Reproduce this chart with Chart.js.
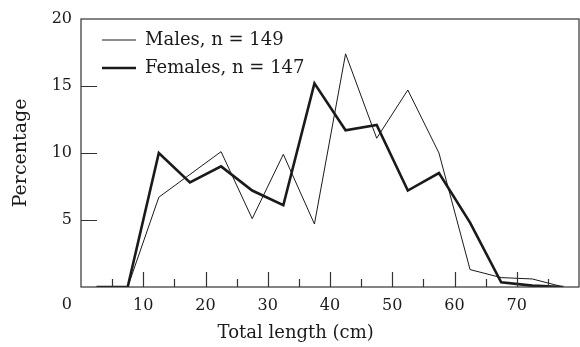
<!DOCTYPE html>
<html lang="en">
  <head>
    <meta charset="UTF-8" />
    <meta name="viewport" content="width=device-width, initial-scale=1.0" />
    <title>Total length distribution</title>
    <script src="https://cdn.jsdelivr.net/npm/chart.js"></script>
    <style>
      html, body { margin: 0; padding: 0; background: #fff; }
      #wrap { width: 580px; height: 347px; }
    </style>
  </head>
  <body>
    <div id="wrap"><canvas id="lengthChart"></canvas></div>
    <script>
      // class midpoints (cm) and percentage per class
      const lengthMids = [2.5, 7.5, 12.5, 17.5, 22.5, 27.5, 32.5, 37.5, 42.5, 47.5, 52.5, 57.5, 62.5, 67.5, 72.5, 77.5];
      const malePct = [0, 0, 6.7, 8.4, 10.1, 5.1, 9.9, 4.7, 17.4, 11.1, 14.7, 10.0, 1.3, 0.7, 0.6, 0];
      const femalePct = [0, 0, 10.0, 7.8, 9.0, 7.2, 6.1, 15.2, 11.7, 12.1, 7.2, 8.5, 4.8, 0.35, 0.1, 0];
      const maleLabel = "Males, n = 149";
      const femaleLabel = "Females, n = 147";
      const xTitle = "Total length (cm)";
      const yTitle = "Percentage";

      const serif = '"DejaVu Serif", "Liberation Serif", serif';
      const ink = "#1a1a1a";

      function toPoints(values) {
        return values.map((v, i) => ({ x: lengthMids[i], y: v }));
      }

      // frame, inward tick marks, corner "0", and legend nudged into the plot corner
      const frameTicks = {
        id: "frameTicks",
        afterLayout(chart) {
          const lg = chart.legend;
          lg.left = chart.chartArea.left + 11;
          lg.top = chart.chartArea.top + 2;
        },
        afterDraw(chart) {
          const { ctx, chartArea: a, scales } = chart;
          const x = scales.x;
          const y = scales.y;
          ctx.save();
          ctx.strokeStyle = "#333";
          ctx.lineWidth = 1.2;
          ctx.strokeRect(a.left, a.top, a.right - a.left, a.bottom - a.top);
          ctx.beginPath();
          for (let v = 5; v < 80; v += 5) {
            const px = Math.round(x.getPixelForValue(v)) + 0.5;
            ctx.moveTo(px, a.bottom);
            ctx.lineTo(px, a.bottom - (v % 10 === 0 ? 15 : 8));
          }
          [5, 10, 15].forEach((v) => {
            const py = Math.round(y.getPixelForValue(v)) + 0.5;
            ctx.moveTo(a.left, py);
            ctx.lineTo(a.left + 16, py);
          });
          ctx.stroke();
          ctx.fillStyle = ink;
          ctx.font = "16px " + serif;
          ctx.textAlign = "right";
          ctx.textBaseline = "middle";
          ctx.fillText("0", a.left - 9, a.bottom + 18);
          ctx.restore();
        },
      };

      const ctx = document.getElementById("lengthChart").getContext("2d");
      new Chart(ctx, {
        type: "line",
        data: {
          datasets: [
            {
              label: maleLabel,
              data: toPoints(malePct),
              borderColor: ink,
              backgroundColor: ink,
              borderWidth: 1,
              pointRadius: 0,
              tension: 0,
              fill: false,
            },
            {
              label: femaleLabel,
              data: toPoints(femalePct),
              borderColor: ink,
              backgroundColor: ink,
              borderWidth: 2.6,
              pointRadius: 0,
              tension: 0,
              fill: false,
            },
          ],
        },
        options: {
          responsive: true,
          maintainAspectRatio: false,
          animation: false,
          layout: { padding: { top: 19, right: 1, left: 0, bottom: 0 } },
          plugins: {
            tooltip: { enabled: false },
            legend: {
              position: "chartArea",
              align: "start",
              labels: {
                usePointStyle: true,
                pointStyle: "line",
                pointStyleWidth: 34,
                padding: 10,
                color: ink,
                font: { family: serif, size: 18 },
              },
            },
          },
          scales: {
            x: {
              type: "linear",
              min: 0,
              max: 80,
              grid: { display: false, drawTicks: false },
              border: { display: false },
              ticks: {
                stepSize: 10,
                autoSkip: false,
                maxRotation: 0,
                padding: 9,
                color: ink,
                font: { family: serif, size: 16 },
                callback: (v) => (v === 0 || v === 80 ? "" : v),
              },
              title: {
                display: true,
                text: xTitle + "            ",
                color: ink,
                font: { family: serif, size: 18 },
                padding: { top: 0, bottom: 3 },
              },
              afterFit: (scale) => {
                scale.height = 60;
                scale.paddingLeft = 0;
                scale.paddingRight = 0;
              },
            },
            y: {
              min: 0,
              max: 20,
              grid: { display: false, drawTicks: false },
              border: { display: false },
              ticks: {
                stepSize: 5,
                padding: 9,
                color: ink,
                font: { family: serif, size: 16 },
                callback: (v) => (v === 0 ? "" : v),
              },
              title: {
                display: true,
                text: yTitle,
                color: ink,
                font: { family: serif, size: 19 },
                padding: { top: 10, bottom: 0 },
              },
              afterFit: (scale) => {
                scale.width = 81;
              },
            },
          },
        },
        plugins: [frameTicks],
      });
    </script>
  </body>
</html>
